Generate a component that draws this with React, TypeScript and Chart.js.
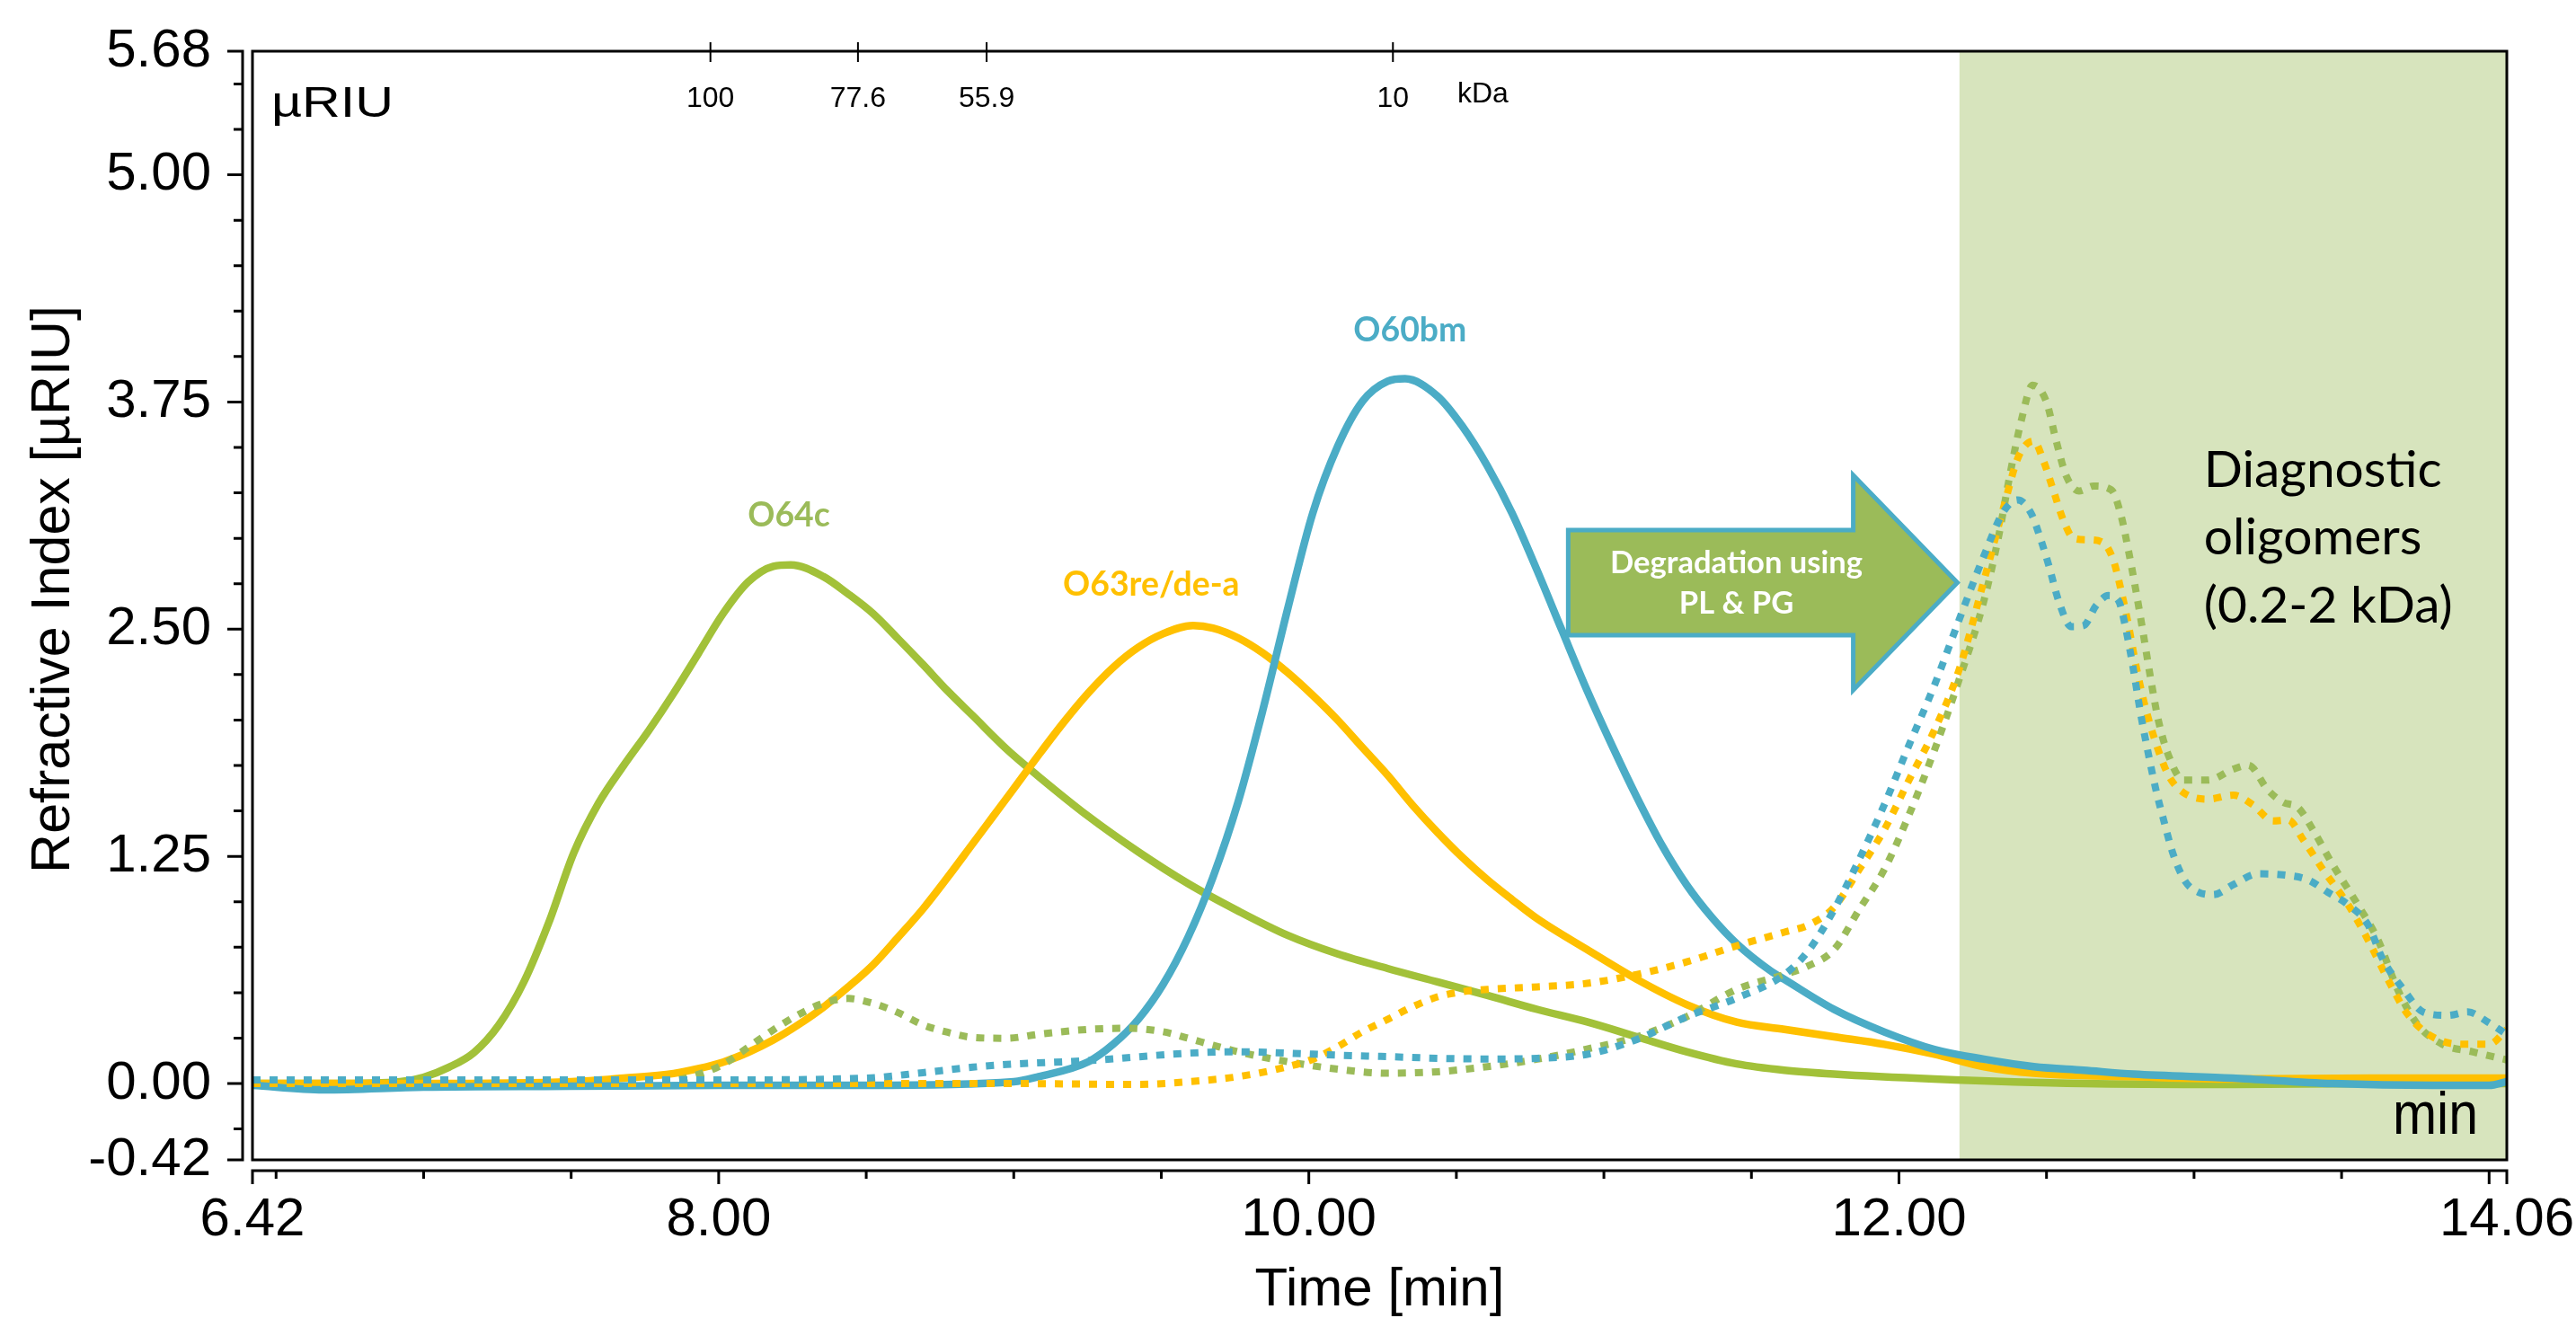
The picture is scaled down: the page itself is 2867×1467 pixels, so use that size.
import { useEffect, useRef } from "react";
import { Chart, registerables } from "chart.js";

Chart.register(...registerables);

// ---------- axes ----------
const X_MIN = 6.42;
const X_MAX = 14.06;
const Y_MIN = -0.42;
const Y_MAX = 5.68;
const xTickValues = [6.42, 8, 10, 12, 14.06];
const xMajorMarks = [6.42, 8, 10, 12, 14, 14.06];
const xMinorMarks = [6.5, 7, 7.5, 8.5, 9, 9.5, 10.5, 11, 11.5, 12.5, 13, 13.5];
const yTickValues = [-0.42, 0, 1.25, 2.5, 3.75, 5, 5.68];
const yMinorMarks = [-0.25, 0.25, 0.5, 0.75, 1, 1.5, 1.75, 2, 2.25, 2.75, 3, 3.25, 3.5, 4, 4.25, 4.5, 4.75, 5.25, 5.5];

// molecular-weight calibration marks on the top edge
const kdaTimes = [7.972, 8.472, 8.908, 10.285];
const kdaLabels = ["100", "77.6", "55.9", "10"];
const kdaUnitTime = 10.59;

// shaded "diagnostic oligomers" window starts here (min)
const shadeFrom = 12.205;

// ---------- series: O64c (solid) ----------
const o64cTime = [6.42, 6.7, 6.92, 7.0, 7.086, 7.17, 7.255, 7.34, 7.424, 7.509, 7.593, 7.678, 7.762, 7.847, 7.931, 8.015, 8.1, 8.185, 8.244, 8.354, 8.438, 8.523, 8.607, 8.692, 8.776, 8.861, 8.976, 9.084, 9.253, 9.422, 9.591, 9.76, 9.929, 10.098, 10.267, 10.436, 10.605, 10.774, 10.943, 11.112, 11.28, 11.45, 11.612, 11.78, 12.12, 12.625, 13.13, 13.6, 14.06];
const o64cValue = [0.0, 0.0, 0.01, 0.035, 0.09, 0.17, 0.323, 0.56, 0.885, 1.27, 1.543, 1.75, 1.94, 2.147, 2.366, 2.586, 2.76, 2.846, 2.854, 2.79, 2.695, 2.586, 2.449, 2.306, 2.16, 2.024, 1.84, 1.69, 1.47, 1.275, 1.1, 0.95, 0.815, 0.713, 0.633, 0.559, 0.485, 0.408, 0.339, 0.257, 0.175, 0.108, 0.073, 0.052, 0.025, 0.0, -0.005, 0.0, 0.0];

// ---------- series: O63re/de-a (solid) ----------
const o63Time = [6.42, 7.0, 7.5, 7.678, 7.847, 7.931, 8.015, 8.1, 8.185, 8.269, 8.354, 8.438, 8.523, 8.607, 8.692, 8.776, 8.861, 8.93, 8.999, 9.084, 9.168, 9.253, 9.337, 9.422, 9.506, 9.608, 9.675, 9.76, 9.844, 9.929, 10.013, 10.098, 10.182, 10.267, 10.351, 10.436, 10.52, 10.605, 10.689, 10.774, 10.943, 11.112, 11.28, 11.45, 11.612, 11.78, 11.95, 12.12, 12.288, 12.457, 12.795, 13.13, 13.6, 14.06];
const o63Value = [0.0, 0.0, 0.01, 0.03, 0.055, 0.082, 0.118, 0.172, 0.24, 0.323, 0.419, 0.53, 0.653, 0.803, 0.96, 1.135, 1.32, 1.47, 1.62, 1.807, 1.985, 2.15, 2.29, 2.4, 2.475, 2.52, 2.506, 2.452, 2.369, 2.26, 2.136, 1.999, 1.848, 1.697, 1.533, 1.382, 1.245, 1.121, 1.012, 0.907, 0.737, 0.573, 0.435, 0.338, 0.298, 0.257, 0.216, 0.161, 0.093, 0.057, 0.038, 0.025, 0.03, 0.03];

// ---------- series: O60bm (solid) ----------
const o60Time = [6.42, 6.66, 7.0, 7.5, 8.0, 8.5, 9.0, 9.084, 9.253, 9.337, 9.422, 9.506, 9.591, 9.675, 9.76, 9.844, 9.929, 10.013, 10.098, 10.182, 10.267, 10.326, 10.436, 10.52, 10.605, 10.689, 10.774, 10.858, 10.943, 11.027, 11.112, 11.196, 11.28, 11.365, 11.45, 11.565, 11.612, 11.78, 11.95, 12.12, 12.288, 12.457, 12.626, 12.795, 13.13, 13.47, 13.81, 14.0, 14.06];
const o60Value = [-0.01, -0.035, -0.02, -0.015, -0.01, -0.01, 0.01, 0.038, 0.12, 0.216, 0.353, 0.545, 0.806, 1.135, 1.547, 2.054, 2.616, 3.137, 3.507, 3.754, 3.864, 3.878, 3.782, 3.617, 3.398, 3.137, 2.822, 2.493, 2.163, 1.862, 1.574, 1.313, 1.094, 0.916, 0.77, 0.62, 0.573, 0.408, 0.284, 0.188, 0.134, 0.093, 0.073, 0.052, 0.03, 0.0, -0.01, -0.01, 0.01];

// ---------- degraded O64c (dotted) ----------
const degO64cTime = [6.42, 7.0, 7.5, 7.85, 7.931, 8.015, 8.1, 8.185, 8.269, 8.354, 8.438, 8.523, 8.607, 8.692, 8.776, 8.861, 8.976, 9.084, 9.253, 9.388, 9.506, 9.591, 9.675, 9.76, 9.929, 10.098, 10.267, 10.436, 10.605, 10.774, 10.943, 11.112, 11.28, 11.45, 11.612, 11.696, 11.78, 11.865, 11.95, 12.034, 12.12, 12.203, 12.288, 12.338, 12.372, 12.414, 12.453, 12.499, 12.533, 12.567, 12.61, 12.66, 12.72, 12.753, 12.778, 12.803, 12.829, 12.854, 12.879, 12.913, 12.964, 13.048, 13.133, 13.184, 13.25, 13.302, 13.352, 13.403, 13.47, 13.555, 13.623, 13.69, 13.757, 13.842, 13.943, 14.06];
const degO64cValue = [0.01, 0.01, 0.01, 0.02, 0.05, 0.105, 0.2, 0.295, 0.378, 0.441, 0.468, 0.441, 0.391, 0.323, 0.282, 0.254, 0.249, 0.271, 0.298, 0.304, 0.285, 0.249, 0.211, 0.175, 0.12, 0.079, 0.057, 0.065, 0.093, 0.134, 0.19, 0.257, 0.367, 0.518, 0.6, 0.65, 0.737, 0.957, 1.177, 1.478, 1.834, 2.218, 2.657, 3.013, 3.315, 3.644, 3.842, 3.754, 3.535, 3.343, 3.26, 3.288, 3.266, 3.123, 2.93, 2.712, 2.465, 2.218, 1.999, 1.807, 1.67, 1.67, 1.73, 1.752, 1.615, 1.547, 1.519, 1.396, 1.204, 0.984, 0.792, 0.518, 0.326, 0.216, 0.175, 0.13];

// ---------- degraded O63re/de-a (dotted) ----------
const degO63Time = [6.42, 7.0, 8.0, 9.0, 9.422, 9.591, 9.76, 9.929, 10.013, 10.098, 10.182, 10.267, 10.351, 10.436, 10.52, 10.605, 10.774, 10.943, 11.112, 11.28, 11.45, 11.612, 11.696, 11.78, 11.865, 11.95, 12.034, 12.12, 12.203, 12.288, 12.356, 12.406, 12.457, 12.49, 12.524, 12.558, 12.592, 12.643, 12.694, 12.727, 12.753, 12.778, 12.803, 12.829, 12.862, 12.913, 12.964, 13.048, 13.133, 13.2, 13.268, 13.319, 13.37, 13.437, 13.522, 13.589, 13.657, 13.724, 13.808, 13.91, 14.0, 14.06];
const degO63Value = [0.0, 0.0, 0.0, 0.0, -0.005, 0.01, 0.038, 0.093, 0.134, 0.203, 0.285, 0.353, 0.422, 0.477, 0.505, 0.518, 0.532, 0.551, 0.6, 0.669, 0.758, 0.833, 0.874, 0.97, 1.177, 1.396, 1.67, 1.944, 2.273, 2.767, 3.178, 3.453, 3.535, 3.425, 3.26, 3.096, 3.0, 2.992, 2.973, 2.877, 2.712, 2.52, 2.301, 2.109, 1.917, 1.697, 1.601, 1.565, 1.587, 1.533, 1.445, 1.45, 1.341, 1.177, 0.984, 0.792, 0.573, 0.381, 0.257, 0.216, 0.216, 0.298];

// ---------- degraded O60bm (dotted) ----------
const degO60Time = [6.42, 7.0, 8.0, 8.5, 8.692, 8.861, 8.976, 9.253, 9.591, 9.76, 9.929, 10.098, 10.267, 10.436, 10.605, 10.774, 10.943, 11.112, 11.28, 11.45, 11.612, 11.696, 11.78, 11.865, 11.95, 12.034, 12.12, 12.203, 12.288, 12.356, 12.403, 12.448, 12.482, 12.508, 12.541, 12.584, 12.626, 12.668, 12.71, 12.744, 12.77, 12.795, 12.82, 12.846, 12.871, 12.897, 12.93, 12.972, 13.015, 13.065, 13.133, 13.217, 13.302, 13.386, 13.453, 13.522, 13.589, 13.64, 13.71, 13.776, 13.86, 13.928, 13.995, 14.06];
const degO60Value = [0.02, 0.02, 0.02, 0.03, 0.06, 0.09, 0.105, 0.126, 0.167, 0.175, 0.167, 0.156, 0.148, 0.139, 0.135, 0.139, 0.161, 0.243, 0.367, 0.47, 0.6, 0.737, 0.957, 1.232, 1.533, 1.862, 2.191, 2.548, 2.904, 3.151, 3.211, 3.137, 2.986, 2.849, 2.657, 2.514, 2.52, 2.63, 2.685, 2.657, 2.493, 2.273, 2.026, 1.807, 1.615, 1.45, 1.258, 1.108, 1.053, 1.039, 1.094, 1.154, 1.148, 1.121, 1.053, 0.984, 0.875, 0.683, 0.518, 0.394, 0.375, 0.394, 0.339, 0.27];

// ---------- annotations (data coordinates) ----------
const peakLabels = ["O64c", "O63re/de-a", "O60bm"];
const peakLabelTimes = [8.238, 9.466, 10.343];
const peakLabelValues = [3.065, 2.684, 4.083];
const arrowLines = ["Degradation using", "PL & PG"];
const arrowLineTimes = [11.449, 11.449];
const arrowLineValues = [2.808, 2.586];
const noteLines = ["Diagnostic", "oligomers", "(0.2-2 kDa)"];
const noteTime = 13.033;
const noteValues = [3.283, 2.912, 2.536];
const arrowShape = { tail: 10.879, neck: 11.845, tip: 12.198, bodyTop: 3.045, bodyBottom: 2.467, headTop: 3.347, headBottom: 2.165, mid: 2.756 };

// ---------- colours ----------
const GREEN = "#A2C139";
const GREEN_DOT = "#9BBB59";
const ORANGE = "#FFC000";
const BLUE = "#4BACC6";
const SHADE = "#D7E4BD";
const labelColors = [GREEN_DOT, ORANGE, BLUE];

const pts = (t: number[], v: number[]) => t.map((x, i) => ({ x, y: v[i] }));

function fitSize(ctx: CanvasRenderingContext2D, text: string, weight: string, family: string, target: number) {
  ctx.font = `${weight} 100px ${family}`;
  const w = ctx.measureText(text).width;
  return (100 * target) / w;
}

const overlayPlugin = {
  id: "overlay",
  beforeDatasetsDraw(chart: any) {
    const { ctx, chartArea: a, scales } = chart;
    const x0 = scales.x.getPixelForValue(shadeFrom);
    ctx.save();
    ctx.fillStyle = SHADE;
    ctx.fillRect(x0, a.top, a.right - x0, a.bottom - a.top);
    ctx.restore();
  },
  afterDatasetsDraw(chart: any) {
    const { ctx, chartArea: a, scales } = chart;
    const xs = scales.x;
    const ys = scales.y;
    const px = (t: number) => xs.getPixelForValue(t);
    const py = (v: number) => ys.getPixelForValue(v);
    ctx.save();

    // arrow
    ctx.beginPath();
    ctx.moveTo(px(arrowShape.tail), py(arrowShape.bodyTop));
    ctx.lineTo(px(arrowShape.neck), py(arrowShape.bodyTop));
    ctx.lineTo(px(arrowShape.neck), py(arrowShape.headTop));
    ctx.lineTo(px(arrowShape.tip), py(arrowShape.mid));
    ctx.lineTo(px(arrowShape.neck), py(arrowShape.headBottom));
    ctx.lineTo(px(arrowShape.neck), py(arrowShape.bodyBottom));
    ctx.lineTo(px(arrowShape.tail), py(arrowShape.bodyBottom));
    ctx.closePath();
    ctx.fillStyle = "#9BBB59";
    ctx.fill();
    ctx.lineWidth = 5;
    ctx.strokeStyle = BLUE;
    ctx.lineJoin = "miter";
    ctx.stroke();

    // arrow text
    const aSize = fitSize(ctx, arrowLines[0], "bold", "Lato", 281);
    ctx.font = `bold ${aSize}px Lato`;
    ctx.fillStyle = "#FFFFFF";
    ctx.textAlign = "center";
    ctx.textBaseline = "alphabetic";
    arrowLines.forEach((s, i) => ctx.fillText(s, px(arrowLineTimes[i]), py(arrowLineValues[i])));

    // peak labels
    const pSize = fitSize(ctx, "O60bm", "bold", "Lato", 126);
    ctx.font = `bold ${pSize}px Lato`;
    peakLabels.forEach((s, i) => {
      ctx.fillStyle = labelColors[i];
      ctx.fillText(s, px(peakLabelTimes[i]), py(peakLabelValues[i]));
    });

    // diagnostic note
    const nSize = fitSize(ctx, noteLines[0], "normal", "Lato", 265);
    ctx.font = `${nSize}px Lato`;
    ctx.fillStyle = "#000";
    ctx.textAlign = "left";
    noteLines.forEach((s, i) => ctx.fillText(s, px(noteTime), py(noteValues[i])));

    // frame
    ctx.strokeStyle = "#000";
    ctx.lineWidth = 3;
    ctx.lineJoin = "miter";
    ctx.strokeRect(a.left, a.top, a.right - a.left, a.bottom - a.top);

    // detached y axis
    const yAxisX = a.left - 11;
    ctx.beginPath();
    ctx.moveTo(yAxisX, a.top - 1.5);
    ctx.lineTo(yAxisX, a.bottom + 1.5);
    yTickValues.forEach((v) => { ctx.moveTo(yAxisX - 17, py(v)); ctx.lineTo(yAxisX, py(v)); });
    yMinorMarks.forEach((v) => { ctx.moveTo(yAxisX - 10, py(v)); ctx.lineTo(yAxisX, py(v)); });
    // detached x axis
    const xAxisY = a.bottom + 12;
    ctx.moveTo(a.left - 1.5, xAxisY);
    ctx.lineTo(a.right + 1.5, xAxisY);
    xMajorMarks.forEach((t) => { ctx.moveTo(px(t), xAxisY); ctx.lineTo(px(t), xAxisY + 15); });
    xMinorMarks.forEach((t) => { ctx.moveTo(px(t), xAxisY); ctx.lineTo(px(t), xAxisY + 9); });
    ctx.stroke();

    // kDa calibration marks
    ctx.lineWidth = 2;
    ctx.beginPath();
    kdaTimes.forEach((t) => { ctx.moveTo(px(t), a.top - 10); ctx.lineTo(px(t), a.top + 12); });
    ctx.stroke();
    ctx.font = "32px 'Liberation Sans'";
    ctx.textAlign = "center";
    ctx.fillStyle = "#000";
    kdaLabels.forEach((s, i) => ctx.fillText(s, px(kdaTimes[i]), a.top + 62));
    ctx.fillText("kDa", px(kdaUnitTime), a.top + 57);

    // unit label in the corner
    ctx.textAlign = "left";
    ctx.font = "49px 'Liberation Sans'";
    const uw = ctx.measureText("µRIU").width;
    ctx.save();
    ctx.translate(a.left + 21, a.top + 73);
    ctx.scale(136 / uw, 1);
    ctx.fillText("µRIU", 0, 0);
    ctx.restore();

    // "min" in the lower right corner
    ctx.font = "66px 'Liberation Sans'";
    const mw = ctx.measureText("min").width;
    ctx.save();
    ctx.translate(a.right - 32, a.bottom - 29);
    ctx.scale(95 / mw, 1);
    ctx.textAlign = "right";
    ctx.fillText("min", 0, 0);
    ctx.restore();

    // y axis title
    ctx.save();
    ctx.font = "61px 'Liberation Sans'";
    ctx.translate(a.left - 204, (a.top + a.bottom) / 2 - 18);
    ctx.rotate(-Math.PI / 2);
    ctx.textAlign = "center";
    ctx.textBaseline = "alphabetic";
    ctx.fillText("Refractive Index [µRIU]", 0, 0);
    ctx.restore();

    ctx.restore();
  },
};

const lineStyle = (color: string, dotted: boolean) => ({
  borderColor: color,
  backgroundColor: color,
  borderWidth: dotted ? 8 : 8.5,
  borderDash: dotted ? [9, 10] : [],
  borderCapStyle: "butt" as const,
  borderJoinStyle: "round" as const,
  pointRadius: 0,
  pointHoverRadius: 0,
  fill: false,
  cubicInterpolationMode: "monotone" as const,
});

export default function App() {
  const ref = useRef<HTMLCanvasElement>(null);
  useEffect(() => {
    if (!ref.current) return;
    Chart.defaults.font.family = "'Liberation Sans', Arial, sans-serif";
    const chart = new Chart(ref.current, {
      type: "line",
      data: {
        datasets: [
          { label: "O60bm degraded", data: pts(degO60Time, degO60Value), ...lineStyle(BLUE, true) },
          { label: "O63re/de-a degraded", data: pts(degO63Time, degO63Value), ...lineStyle(ORANGE, true) },
          { label: "O64c degraded", data: pts(degO64cTime, degO64cValue), ...lineStyle(GREEN_DOT, true) },
          { label: "O60bm", data: pts(o60Time, o60Value), ...lineStyle(BLUE, false) },
          { label: "O63re/de-a", data: pts(o63Time, o63Value), ...lineStyle(ORANGE, false) },
          { label: "O64c", data: pts(o64cTime, o64cValue), ...lineStyle(GREEN, false) },
        ],
      },
      options: {
        animation: false,
        responsive: false,
        maintainAspectRatio: false,
        devicePixelRatio: 1,
        layout: { padding: { top: 57, right: 77, bottom: 0, left: 0 } },
        plugins: { legend: { display: false }, tooltip: { enabled: false } },
        events: [],
        scales: {
          x: {
            type: "linear",
            min: X_MIN,
            max: X_MAX,
            grid: { display: false, drawTicks: false },
            border: { display: false },
            afterBuildTicks: (s: any) => { s.ticks = xTickValues.map((value) => ({ value })); },
            afterFit: (s: any) => { s.height = 176; s.paddingLeft = 0; s.paddingRight = 0; },
            ticks: {
              autoSkip: false,
              maxRotation: 0,
              padding: 31,
              color: "#000",
              font: { size: 60, family: "'Liberation Sans'" },
              callback: (v: any) => Number(v).toFixed(2),
            },
            title: {
              display: true,
              text: "Time [min]",
              color: "#000",
              font: { size: 60, family: "'Liberation Sans'", lineHeight: 1 },
              padding: { top: 0, bottom: 1 },
            },
          },
          y: {
            type: "linear",
            min: Y_MIN,
            max: Y_MAX,
            grid: { display: false, drawTicks: false },
            border: { display: false },
            afterBuildTicks: (s: any) => { s.ticks = yTickValues.map((value) => ({ value })); },
            afterFit: (s: any) => { s.width = 281; s.paddingTop = 0; s.paddingBottom = 0; },
            ticks: {
              autoSkip: false,
              padding: 46,
              color: "#000",
              font: { size: 60, family: "'Liberation Sans'" },
              callback: (v: any) => Number(v).toFixed(2),
            },
          },
        },
      },
      plugins: [overlayPlugin],
    } as any);
    return () => chart.destroy();
  }, []);
  return (
    <div style={{ position: "fixed", left: 0, top: 0, width: 2867, height: 1467, background: "#fff" }}>
      <canvas ref={ref} width={2867} height={1467} style={{ display: "block", width: 2867, height: 1467 }} />
    </div>
  );
}
